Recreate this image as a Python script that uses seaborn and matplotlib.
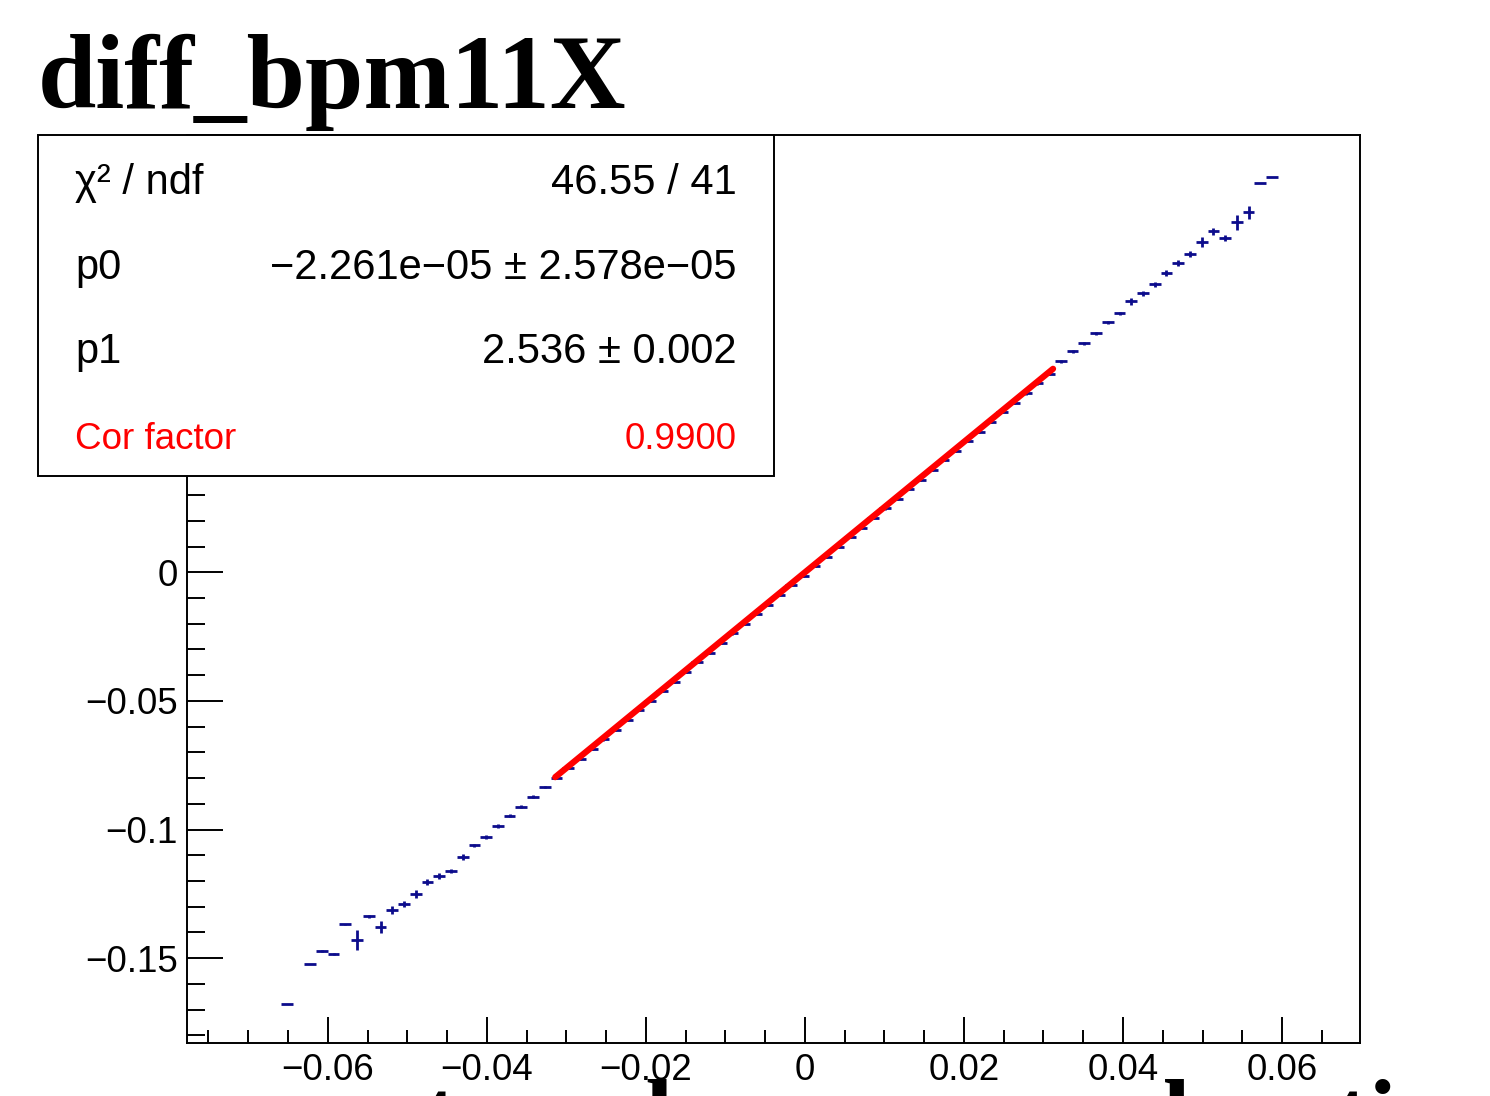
import numpy as np
import pandas as pd
import seaborn as sns
import matplotlib.pyplot as plt
from matplotlib.patches import Rectangle
from matplotlib.ticker import MultipleLocator, FuncFormatter

# profile histogram: 100 bins, filled bins start at bin 8
x_lo, x_hi, n_bins = -0.0777, 0.0698, 100
first_bin = 8

# bin means, bins 8 .. 92 (None = empty bin)
prof_y = [-0.1679, None, -0.1524, -0.1473, -0.1485, -0.1368, -0.1430, -0.1337,
          -0.1380, -0.1314, -0.1290, -0.1251, -0.1205, -0.1181, -0.1162, -0.1108,
          -0.1061, -0.1029, -0.0986, -0.0947, -0.0912, -0.0873, -0.0834, -0.0799,
          -0.0762, -0.0724, -0.0687, -0.0650, -0.0612, -0.0575, -0.0537, -0.0500,
          -0.0462, -0.0425, -0.0388, -0.0350, -0.0313, -0.0275, -0.0238, -0.0201,
          -0.0163, -0.0126, -0.0088, -0.0051, -0.0014, 0.0024, 0.0061, 0.0099,
          0.0136, 0.0173, 0.0211, 0.0248, 0.0286, 0.0323, 0.0360, 0.0398,
          0.0435, 0.0473, 0.0510, 0.0547, 0.0585, 0.0622, 0.0660, 0.0697,
          0.0735, 0.0772, 0.0820, 0.0859, 0.0890, 0.0929, 0.0972, 0.1007,
          0.1053, 0.1084, 0.1119, 0.1162, 0.1201, 0.1236, 0.1283, 0.1325,
          0.1298, 0.1360, 0.1399, 0.1512, 0.1535]

# errors on the means
prof_err = [0.0, 0.0, 0.0, 0.0003, 0.0003, 0.0002, 0.0040, 0.0006,
            0.0023, 0.0015, 0.0012, 0.0015, 0.0012, 0.0010, 0.0008, 0.0012,
            0.0006, 0.0008, 0.0008, 0.0006, 0.0006, 0.0006, 0.0005, 0.0004,
            0.0004, 0.0004, 0.0004, 0.0004, 0.0004, 0.0004, 0.0004, 0.0004,
            0.0004, 0.0004, 0.0004, 0.0004, 0.0004, 0.0004, 0.0004, 0.0004,
            0.0004, 0.0004, 0.0004, 0.0004, 0.0004, 0.0004, 0.0004, 0.0004,
            0.0004, 0.0004, 0.0004, 0.0004, 0.0004, 0.0004, 0.0004, 0.0004,
            0.0004, 0.0004, 0.0004, 0.0004, 0.0004, 0.0004, 0.0006, 0.0006,
            0.0006, 0.0006, 0.0006, 0.0006, 0.0006, 0.0006, 0.0006, 0.0006,
            0.0012, 0.0008, 0.0008, 0.0012, 0.0012, 0.0012, 0.0020, 0.0012,
            0.0012, 0.0030, 0.0025, 0.0, 0.0]

# pol1 fit
p0, p1 = -2.261e-05, 2.536
fit_lo, fit_hi = -0.0314, 0.0312

title = "diff_bpm11X"
next_title = "asym_evt_vs_bcm_normal_ratio"   # title of the pad below, cut off
stat_names = ["\u03c7\u00b2 / ndf", "p0", "p1", "Cor factor"]
stat_values = ["46.55 / 41", "\u22122.261e\u221205 \u00b1 2.578e\u221205",
               "2.536 \u00b1 0.002", "0.9900"]

blue = "#0c0c8c"

bw = (x_hi - x_lo) / n_bins
bins = np.arange(first_bin, first_bin + len(prof_y))
df = pd.DataFrame({"x": x_lo + (bins + 0.5) * bw, "y": prof_y, "err": prof_err})
df = df.dropna()

sns.set_style("ticks")
plt.rcParams["font.family"] = ["Liberation Sans", "DejaVu Sans"]
plt.rcParams["text.color"] = "black"
plt.rcParams["xtick.color"] = "black"
plt.rcParams["ytick.color"] = "black"

W, H = 1490, 1096
fig = plt.figure(figsize=(W / 100, H / 100), dpi=100)
ax = fig.add_axes([187 / W, 1 - 1043 / H, 1173 / W, 908 / H])

ax.errorbar(df["x"], df["y"], xerr=bw / 2, yerr=df["err"], fmt="none",
            ecolor=blue, elinewidth=2, capsize=0, zorder=2)

fx = np.linspace(fit_lo, fit_hi, 200)
sns.lineplot(x=fx, y=p0 + p1 * fx, color="red", lw=4.5, ax=ax, zorder=3)

ax.set_xlim(x_lo, x_hi)
ax.set_ylim(-0.183, 0.17)
ax.xaxis.set_major_locator(MultipleLocator(0.02))
ax.xaxis.set_minor_locator(MultipleLocator(0.005))
ax.yaxis.set_major_locator(MultipleLocator(0.05))
ax.yaxis.set_minor_locator(MultipleLocator(0.01))


def root_fmt(v, pos):
    if abs(v) < 1e-9:
        return "0"
    return ("%g" % round(v, 4)).replace("-", "\u2212")


def root_fmt_y(v, pos):
    # labels above 0 sit behind the stats box
    if v > 0.01:
        return ""
    return root_fmt(v, pos)


ax.xaxis.set_major_formatter(FuncFormatter(root_fmt))
ax.yaxis.set_major_formatter(FuncFormatter(root_fmt_y))

for s in ax.spines.values():
    s.set_visible(True)
    s.set_linewidth(1.4)
    s.set_color("black")

ax.tick_params(which="both", direction="in", width=1.4, color="black",
               labelcolor="black", top=False, right=False, labelsize=26.5)
ax.tick_params(axis="y", which="major", length=26, pad=6.5)
ax.tick_params(axis="y", which="minor", length=13)
ax.tick_params(axis="x", which="major", length=19, pad=7)
ax.tick_params(axis="x", which="minor", length=9.5)

# title
fig.text(38 / W, 1 - 108 / H, title, fontsize=75.5, fontweight="bold",
         family="Liberation Serif", va="baseline", ha="left", color="black")
fig.text(58 / W, 1 - 1148 / H, next_title, fontsize=72, fontweight="bold",
         family="Liberation Serif", va="baseline", ha="left", color="black")

# stats box
fig.patches.append(Rectangle((38 / W, 1 - 476 / H), 736 / W, 341 / H,
                             transform=fig.transFigure, facecolor="white",
                             edgecolor="black", lw=1.4, zorder=10))
row_y = [194, 279, 363, 449]
for i, (name, val) in enumerate(zip(stat_names, stat_values)):
    col = "red" if i == 3 else "black"
    fs = 26.5 if i == 3 else 30
    fig.text(75 / W, 1 - row_y[i] / H, name, fontsize=fs, color=col,
             va="baseline", ha="left", zorder=11)
    fig.text(737 / W, 1 - row_y[i] / H, val, fontsize=fs, color=col,
             va="baseline", ha="right", zorder=11)

plt.savefig("out.png", dpi=100)
